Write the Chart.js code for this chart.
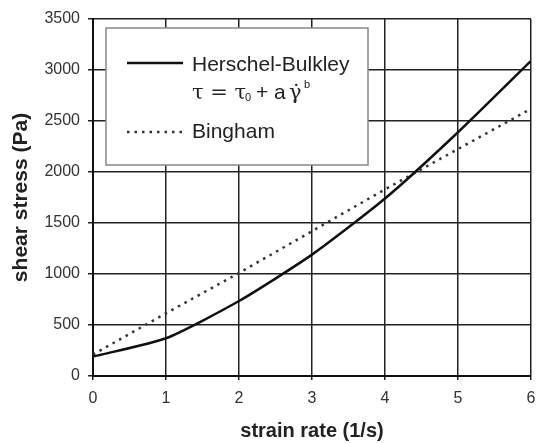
<!DOCTYPE html>
<html>
<head>
<meta charset="utf-8">
<script src="https://cdn.jsdelivr.net/npm/chart.js@4.4.0/dist/chart.umd.min.js"></script>
<style>
  html, body { margin: 0; padding: 0; background: #fff; }
  #wrap { width: 536px; height: 443px; }
</style>
</head>
<body>
<div id="wrap"><canvas id="myChart" width="536" height="443"></canvas></div>
<script>
// strain rate (1/s)
const strainRate = [0, 1, 2, 3, 4, 5, 6];
// shear stress (Pa)
const herschelBulkley = [190, 370, 735, 1190, 1740, 2390, 3090];
const bingham = [210, 615, 1010, 1420, 1830, 2225, 2620];

const yTicks = [0, 500, 1000, 1500, 2000, 2500, 3000, 3500];

const font = "'Liberation Sans', Arial, sans-serif";

function toPoints(xs, ys) {
    return xs.map((x, i) => ({ x: x, y: ys[i] }));
}

// custom legend box with the formula line
const legendBox = {
    id: 'legendBox',
    afterDraw(chart) {
        const ctx = chart.ctx;
        ctx.save();
        ctx.fillStyle = '#fff';
        ctx.fillRect(106, 28, 262, 137);
        ctx.strokeStyle = '#888';
        ctx.lineWidth = 1.5;
        ctx.strokeRect(106, 28, 262, 137);

        // solid sample
        ctx.strokeStyle = '#111';
        ctx.lineWidth = 2.5;
        ctx.beginPath();
        ctx.moveTo(127, 63);
        ctx.lineTo(183, 63);
        ctx.stroke();

        // dotted sample
        ctx.strokeStyle = '#333';
        ctx.lineWidth = 2.5;
        ctx.setLineDash([2.5, 5]);
        ctx.beginPath();
        ctx.moveTo(127, 132);
        ctx.lineTo(183, 132);
        ctx.stroke();
        ctx.setLineDash([]);

        ctx.fillStyle = '#222';
        ctx.textBaseline = 'alphabetic';
        ctx.textAlign = 'left';
        ctx.font = `21px ${font}`;
        ctx.fillText('Herschel-Bulkley', 192, 71);
        ctx.fillText('Bingham', 192, 138);

        // τ = τ0 + aγ̇^b
        ctx.font = `21px 'DejaVu Serif', serif`;
        ctx.fillText('τ = τ', 192, 99);
        ctx.font = `11px ${font}`;
        ctx.fillText('0', 245, 101);
        ctx.font = `21px ${font}`;
        ctx.fillText('+ a', 256, 99);
        ctx.font = `21px 'DejaVu Serif', serif`;
        ctx.fillText('γ\u0307', 289, 99);
        ctx.font = `11px ${font}`;
        ctx.fillText('b', 304, 88);
        ctx.restore();
    }
};

const ctx = document.querySelector('#myChart').getContext('2d');
const myChart = new Chart(ctx, {
    type: 'line',
    data: {
        datasets: [{
            label: 'Herschel-Bulkley',
            data: toPoints(strainRate, herschelBulkley),
            borderColor: '#111',
            borderWidth: 2.5,
            pointRadius: 0,
            tension: 0.2,
            fill: false
        }, {
            label: 'Bingham',
            data: toPoints(strainRate, bingham),
            borderColor: '#333',
            borderWidth: 2.5,
            borderDash: [2.5, 5],
            pointRadius: 0,
            tension: 0,
            fill: false
        }]
    },
    options: {
        responsive: false,
        animation: false,
        layout: { padding: { left: 0, right: 5, top: 19, bottom: 0 } },
        plugins: {
            legend: { display: false },
            tooltip: { enabled: false }
        },
        scales: {
            x: {
                type: 'linear',
                min: 0,
                max: 6,
                afterFit: s => {
                    s.height = 67;
                    s.paddingLeft = 0;
                    s.paddingRight = 0;
                },
                ticks: {
                    stepSize: 1,
                    color: '#333',
                    padding: 9,
                    font: { family: font, size: 16 }
                },
                grid: {
                    color: '#222',
                    lineWidth: 1.5,
                    tickLength: 4
                },
                border: { color: '#111', width: 2 },
                title: {
                    display: true,
                    text: 'strain rate (1/s)',
                    color: '#222',
                    font: { family: font, size: 20, weight: 'bold' },
                    padding: { bottom: 0 }
                }
            },
            y: {
                min: 0,
                max: 3500,
                afterFit: s => {
                    s.width = 93;
                    s.paddingTop = 0;
                    s.paddingBottom = 0;
                },
                afterBuildTicks: s => { s.ticks = yTicks.map(v => ({ value: v })); },
                ticks: {
                    color: '#333',
                    padding: 8,
                    font: { family: font, size: 16 },
                    callback: v => String(v)
                },
                grid: {
                    color: '#222',
                    lineWidth: 1.5,
                    tickLength: 5
                },
                border: { color: '#111', width: 2 },
                title: {
                    display: true,
                    text: 'shear stress (Pa)',
                    color: '#222',
                    font: { family: font, size: 21, weight: 'bold' },
                    padding: { top: 9 }
                }
            }
        }
    },
    plugins: [legendBox]
});
</script>
</body>
</html>
